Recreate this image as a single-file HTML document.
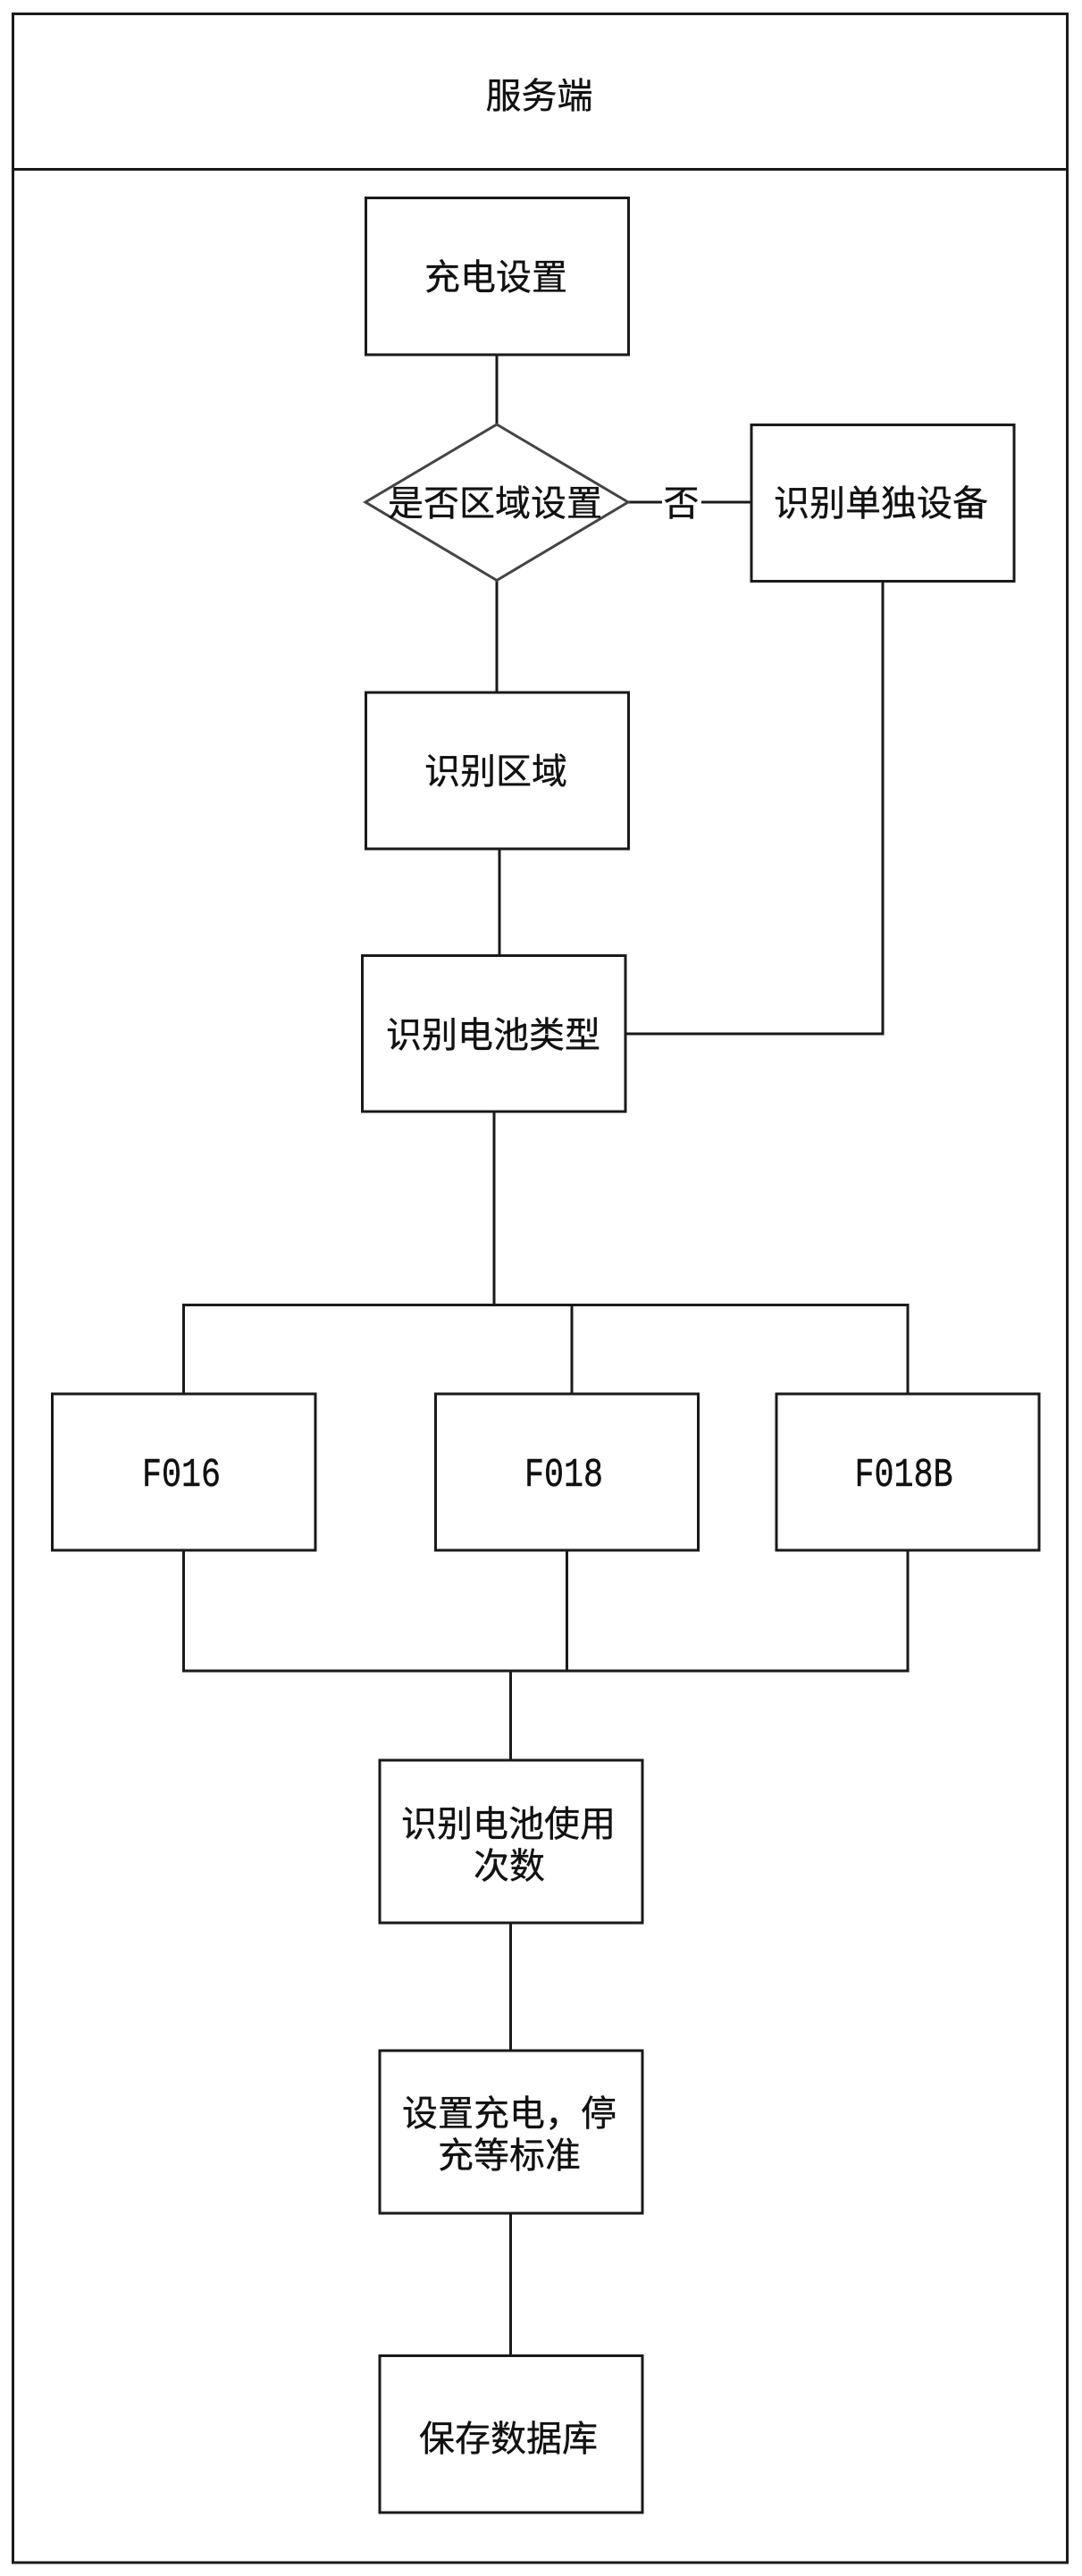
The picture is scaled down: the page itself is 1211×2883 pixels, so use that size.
<!DOCTYPE html>
<html lang="zh">
<head>
<meta charset="utf-8">
<style>
html,body{margin:0;padding:0;background:#fff;width:1211px;height:2883px;overflow:hidden}
svg{display:block}
text{font-family:"WenQuanYi Zen Hei","Noto Sans CJK SC",sans-serif;font-size:40px;fill:#111;stroke:#111;stroke-width:.35;text-anchor:middle;dominant-baseline:central}
text.m{font-family:"Liberation Mono",monospace;font-size:45px;dominant-baseline:auto;stroke-width:.5}
.s{fill:#fff;stroke:#1a1a1a;stroke-width:3}
.l{fill:none;stroke:#1a1a1a;stroke-width:3}
</style>
</head>
<body>
<svg width="1211" height="2883" viewBox="0 0 1211 2883" xmlns="http://www.w3.org/2000/svg">
<rect class="s" x="14.500" y="15.500" width="1180" height="2852.500"/>
<path class="l" d="M14.500 189.500H1194.500"/>
<text x="603.500" y="104">服务端</text>

<path class="l" d="M556 397V475M556 650V775M559 950V1069M988 650V1157H700M553 1244V1460.500M205.500 1560V1460.500H1016V1560M640 1460.500V1560M205.500 1735V1870H1016V1735M634.500 1735V1870M571.500 1870V1970M571.500 2152V2295M571.500 2477V2636M703 562H841"/>

<rect class="s" x="409.500" y="221.500" width="294" height="175.500"/>
<text x="555" y="307">充电设置</text>

<polygon class="s" points="556,475 703,562 556,649.500 409,562" style="stroke:#444"/>
<text x="554" y="560">是否区域设置</text>

<rect x="741" y="540" width="44" height="44" fill="#fff"/>
<text x="762.500" y="560">否</text>

<rect class="s" x="841" y="475.500" width="294" height="175"/>
<text x="986" y="560">识别单独设备</text>

<rect class="s" x="409.500" y="775" width="294" height="175"/>
<text x="555" y="860">识别区域</text>

<rect class="s" x="405.500" y="1069.500" width="294.500" height="174.500"/>
<text x="552" y="1155">识别电池类型</text>

<rect class="s" x="58.500" y="1560" width="294.500" height="175"/>
<text class="m" x="203" y="1663" textLength="88" lengthAdjust="spacingAndGlyphs">F016</text>
<rect class="s" x="487.500" y="1560" width="294" height="175"/>
<text class="m" x="631" y="1663" textLength="88" lengthAdjust="spacingAndGlyphs">F018</text>
<rect class="s" x="869" y="1560" width="294" height="175"/>
<text class="m" x="1011.500" y="1663" textLength="110" lengthAdjust="spacingAndGlyphs">F018B</text>

<rect class="s" x="425" y="1970" width="294" height="182"/>
<text x="569" y="2038">识别电池使用</text>
<text x="570" y="2085">次数</text>

<rect class="s" x="425" y="2295" width="294" height="182"/>
<text x="570" y="2362">设置充电，停</text>
<text x="570" y="2409">充等标准</text>

<rect class="s" x="425" y="2636.500" width="294" height="175.500"/>
<text x="569" y="2726">保存数据库</text>
</svg>
</body>
</html>
